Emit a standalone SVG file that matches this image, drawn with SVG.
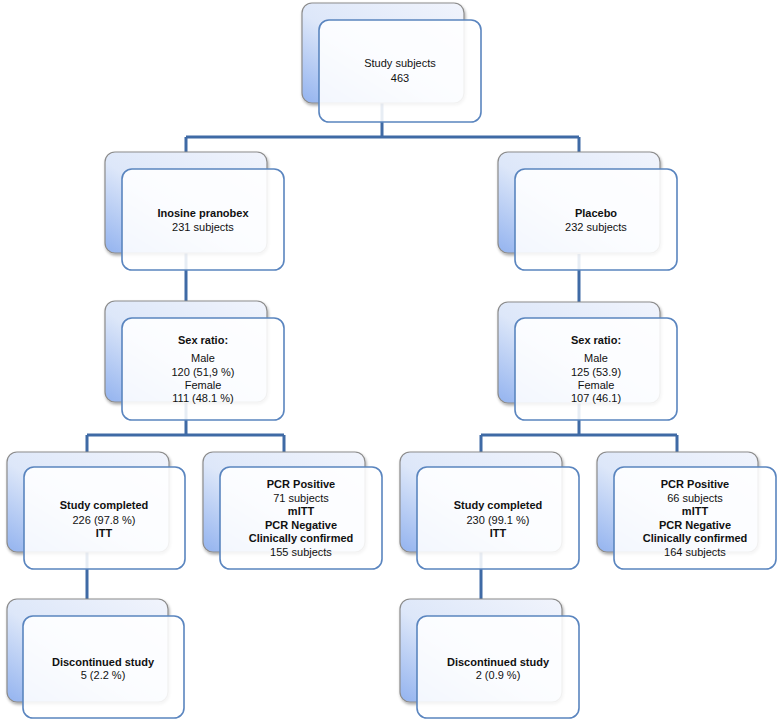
<svg xmlns="http://www.w3.org/2000/svg" width="778" height="721" viewBox="0 0 778 721">
<defs>
<linearGradient id="bg" x1="1" y1="0" x2="0" y2="1">
<stop offset="0" stop-color="#f1f4fc"/>
<stop offset="0.55" stop-color="#dde7f9"/>
<stop offset="1" stop-color="#93b3ef"/>
</linearGradient>
<filter id="sh" x="-10%" y="-10%" width="125%" height="130%">
<feDropShadow dx="1" dy="2" stdDeviation="1.5" flood-color="#000" flood-opacity="0.35"/>
</filter>
</defs>
<style>
.back{fill:url(#bg);stroke:#8c8c8c;stroke-width:1.2;filter:url(#sh)}
.front{fill:#ffffff;fill-opacity:0.88;stroke:#5a85bf;stroke-width:1.6}
.conn{fill:none;stroke:#3f6aa5;stroke-width:3}
text{font-family:"Liberation Sans",Arial,sans-serif;font-size:11px;fill:#111;text-anchor:middle}
.b{font-weight:bold}
</style>
<rect width="778" height="721" fill="#ffffff"/>
<g id="connectors">
<path class="conn" d="M382,102 V137 M186,137 H579 M186,137 V152 M579,137 V152"/>
<path class="conn" d="M186,253 V301 M579,254 V302"/>
<path class="conn" d="M186,403 V435 M87,435 H284 M87,435 V452 M284,435 V452"/>
<path class="conn" d="M579,403 V435 M481,435 H677 M481,435 V452 M677,435 V452"/>
<path class="conn" d="M87,552 V599 M481,552 V599"/>
</g>
<g id="study-subjects" transform="translate(302,3)">
<rect class="back" x="0" y="0" width="162" height="100" rx="10"/>
<rect class="front" x="17" y="17" width="162" height="102" rx="10"/>
<text x="98" y="64">Study subjects</text>
<text x="98" y="79">463</text>
</g>
<g id="inosine" transform="translate(105,152)">
<rect class="back" x="0" y="0" width="162" height="101" rx="10"/>
<rect class="front" x="17" y="17" width="162" height="101" rx="10"/>
<text class="b" x="98" y="65">Inosine pranobex</text>
<text x="98" y="79">231 subjects</text>
</g>
<g id="placebo" transform="translate(498,152)">
<rect class="back" x="0" y="0" width="162" height="101" rx="10"/>
<rect class="front" x="17" y="17" width="162" height="101" rx="10"/>
<text class="b" x="98" y="65">Placebo</text>
<text x="98" y="79">232 subjects</text>
</g>
<g id="sex-left" transform="translate(105,301)">
<rect class="back" x="0" y="0" width="162" height="101" rx="10"/>
<rect class="front" x="17" y="17" width="162" height="102" rx="10"/>
<text class="b" x="98" y="43">Sex ratio:</text>
<text x="98" y="61">Male</text>
<text x="98" y="75">120 (51,9 %)</text>
<text x="98" y="88">Female</text>
<text x="98" y="101">111 (48.1 %)</text>
</g>
<g id="sex-right" transform="translate(498,302)">
<rect class="back" x="0" y="0" width="162" height="101" rx="10"/>
<rect class="front" x="17" y="16" width="162" height="102" rx="10"/>
<text class="b" x="98" y="42">Sex ratio:</text>
<text x="98" y="60">Male</text>
<text x="98" y="74">125 (53.9)</text>
<text x="98" y="87">Female</text>
<text x="98" y="100">107 (46.1)</text>
</g>
<g id="completed-left" transform="translate(7,452)">
<rect class="back" x="0" y="0" width="162" height="100" rx="10"/>
<rect class="front" x="17" y="15" width="161" height="102" rx="10"/>
<text class="b" x="97" y="57">Study completed</text>
<text x="97" y="72">226 (97.8 %)</text>
<text class="b" x="97" y="85">ITT</text>
</g>
<g id="pcr-left" transform="translate(203,452)">
<rect class="back" x="0" y="0" width="162" height="100" rx="10"/>
<rect class="front" x="17" y="15" width="162" height="102" rx="10"/>
<text class="b" x="98" y="36">PCR Positive</text>
<text x="98" y="50">71 subjects</text>
<text class="b" x="98" y="63">mITT</text>
<text class="b" x="98" y="77">PCR Negative</text>
<text class="b" x="98" y="90">Clinically confirmed</text>
<text x="98" y="104">155 subjects</text>
</g>
<g id="completed-right" transform="translate(400,452)">
<rect class="back" x="0" y="0" width="162" height="100" rx="10"/>
<rect class="front" x="17" y="15" width="162" height="102" rx="10"/>
<text class="b" x="98" y="57">Study completed</text>
<text x="98" y="72">230 (99.1 %)</text>
<text class="b" x="98" y="85">ITT</text>
</g>
<g id="pcr-right" transform="translate(597,452)">
<rect class="back" x="0" y="0" width="161" height="100" rx="10"/>
<rect class="front" x="17" y="15" width="162" height="102" rx="10"/>
<text class="b" x="98" y="36">PCR Positive</text>
<text x="98" y="50">66 subjects</text>
<text class="b" x="98" y="63">mITT</text>
<text class="b" x="98" y="77">PCR Negative</text>
<text class="b" x="98" y="90">Clinically confirmed</text>
<text x="98" y="104">164 subjects</text>
</g>
<g id="discontinued-left" transform="translate(7,599)">
<rect class="back" x="0" y="0" width="161" height="103" rx="10"/>
<rect class="front" x="16" y="17" width="161" height="102" rx="10"/>
<text class="b" x="96" y="67">Discontinued study</text>
<text x="96" y="80">5 (2.2 %)</text>
</g>
<g id="discontinued-right" transform="translate(400,599)">
<rect class="back" x="0" y="0" width="162" height="103" rx="10"/>
<rect class="front" x="17" y="17" width="162" height="102" rx="10"/>
<text class="b" x="98" y="67">Discontinued study</text>
<text x="98" y="80">2 (0.9 %)</text>
</g>
</svg>
